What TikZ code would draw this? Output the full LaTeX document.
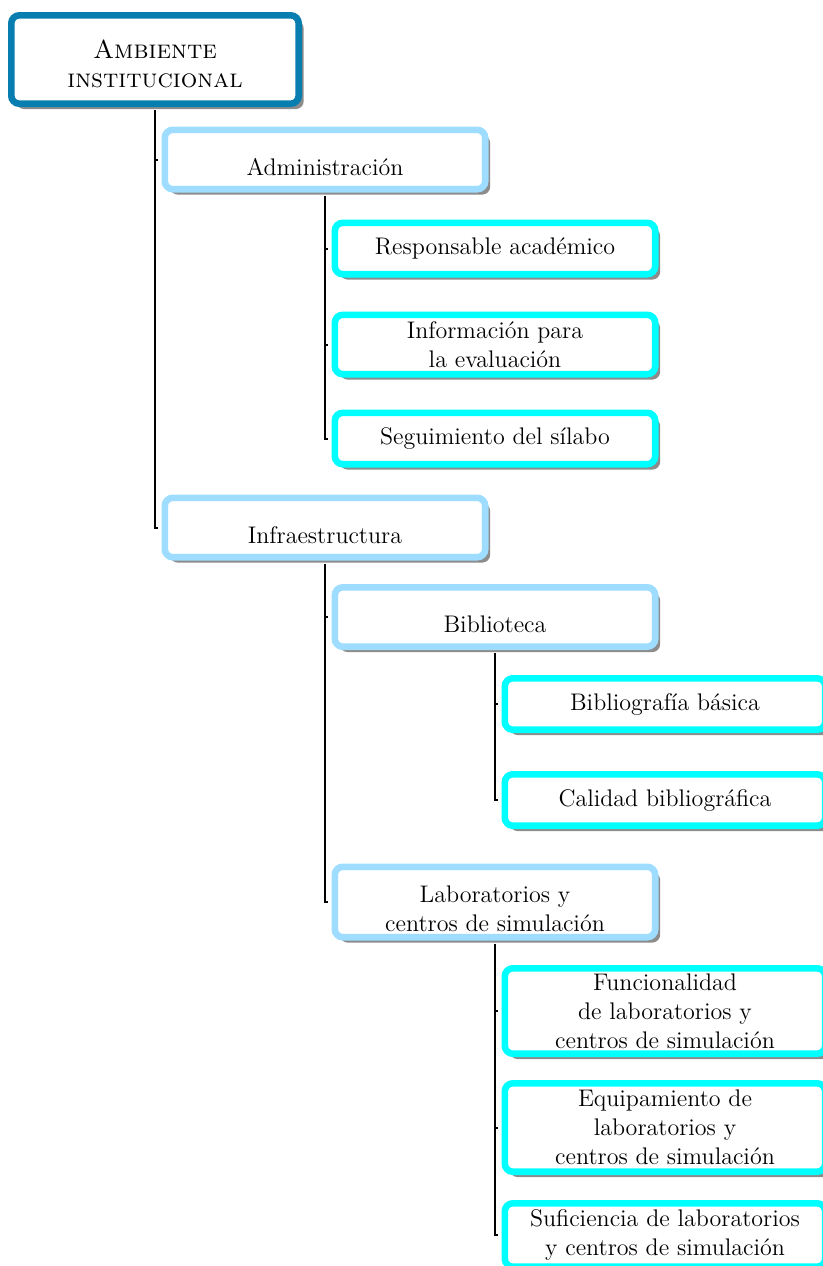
\documentclass[tikz,border=0pt]{standalone}
\usetikzlibrary{shadows}
\definecolor{rootc}{RGB}{8,126,176}
\definecolor{lblue}{RGB}{158,221,255}
\definecolor{cyanc}{RGB}{0,255,255}
\newcommand\lowtext[2]{\raisebox{-#1}[\height][\depth]{\begin{tabular}{@{}c@{}}#2\end{tabular}}}
\begin{document}
\begin{tikzpicture}[x=0.5pt,y=-0.5pt,
  nbox/.style={rectangle, rounded corners=4pt, line width=3.3pt, fill=white,
    inner sep=0pt, align=center, minimum width=160.2pt,
    drop shadow={shadow xshift=2.5pt, shadow yshift=-2.7pt, fill=black!45, opacity=1},
    font=\fontsize{12}{14.5}\selectfont},
  rootbox/.style={nbox, draw=rootc, minimum width=143.7pt, minimum height=44.2pt,
    font=\fontsize{13}{14.5}\selectfont},
  midbox/.style={nbox, draw=lblue},
  leafbox/.style={nbox, draw=cyanc},
  conn/.style={draw=black, line width=1pt, shorten <=1.65pt, shorten >=1.65pt}
]
\useasboundingbox (0,0) rectangle (823,1266);
\clip (0,0) rectangle (823,1266);

\node[rootbox] (root) at (155,59.5) {\lowtext{4pt}{\textsc{Ambiente}\\\textsc{institucional}}};

\node[midbox, minimum height=29.7pt] (adm) at (325,159.5) {\lowtext{5.3pt}{Administración}};
\node[leafbox, minimum height=25.7pt] (resp) at (495,248.5) {Responsable académico};
\node[leafbox, minimum height=29.7pt] (info) at (495,344.5) {Información para\\la evaluación};
\node[leafbox, minimum height=25.7pt] (seg) at (495,438.5) {Seguimiento del sílabo};

\node[midbox, minimum height=29.7pt] (infra) at (325,527.5) {\lowtext{5pt}{Infraestructura}};
\node[midbox, minimum height=29.7pt] (bib) at (495,617) {\lowtext{5pt}{Biblioteca}};
\node[leafbox, minimum height=25.7pt] (bbas) at (665,704) {Bibliografía básica};
\node[leafbox, minimum height=25.7pt] (cal) at (665,800) {Calidad bibliográfica};

\node[midbox, minimum height=35.2pt] (lab) at (495,902) {\lowtext{4.5pt}{Laboratorios y\\centros de simulación}};
\node[leafbox, minimum height=42.7pt] (fun) at (665,1011) {Funcionalidad\\de laboratorios y\\centros de simulación};
\node[leafbox, minimum height=44.2pt] (equ) at (665,1127.5) {Equipamiento de\\laboratorios y\\centros de simulación};
\node[leafbox, minimum height=31.7pt] (suf) at (665,1235) {Suficiencia de laboratorios\\y centros de simulación};

\draw[conn] (root.south) |- (adm.west);
\draw[conn] (root.south) |- (infra.west);
\draw[conn] (adm.south) |- (resp.west);
\draw[conn] (adm.south) |- (info.west);
\draw[conn] (adm.south) |- (seg.west);
\draw[conn] (infra.south) |- (bib.west);
\draw[conn] (infra.south) |- (lab.west);
\draw[conn] (bib.south) |- (bbas.west);
\draw[conn] (bib.south) |- (cal.west);
\draw[conn] (lab.south) |- (fun.west);
\draw[conn] (lab.south) |- (equ.west);
\draw[conn] (lab.south) |- (suf.west);
\end{tikzpicture}
\end{document}
